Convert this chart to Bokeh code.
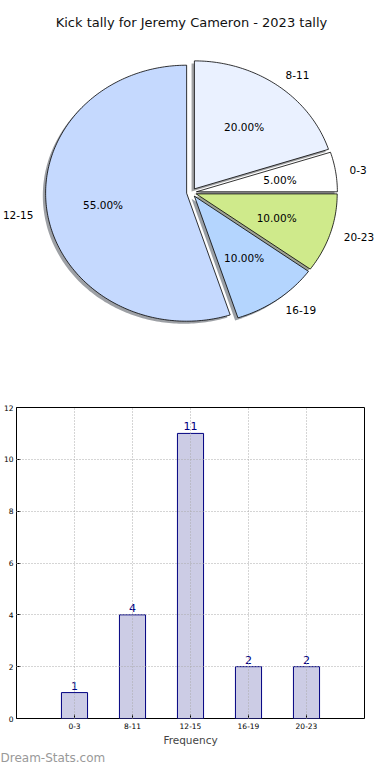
import numpy as np
from bokeh.plotting import figure
from bokeh.models import Range1d, Label, ColumnDataSource, FixedTicker, Title
from bokeh.layouts import column, row
from bokeh.embed import file_html
from bokeh.resources import INLINE
from bokeh.core.properties import value

# ---------------- data ----------------
title_text = "Kick tally for Jeremy Cameron - 2023 tally"
categories = ["0-3", "8-11", "12-15", "16-19", "20-23"]
tallies = [1, 4, 11, 2, 2]
pie_colors = ["#FFFFFF", "#EAF1FF", "#C5D9FE", "#B4D5FE", "#CFEA8B"]
x_label = "Frequency"
watermark = "Dream-Stats.com"
y_ticks = [0, 2, 4, 6, 8, 10, 12]

FONT = "DejaVu Sans"
W = 374

# ---------------- pie ----------------
H1 = 392
RX, RY = 141.0, 128.0     # pixel radius (matplotlib pie without equal aspect)
CX, CY = 191.0, 192.0     # pie centre in pixels (from left / top)
explode = 0.035
p1 = figure(width=W, height=H1, output_backend="svg", toolbar_location=None,
            x_axis_location=None, y_axis_location=None,
            x_range=Range1d(-CX / RX, (W - CX) / RX),
            y_range=Range1d(-(H1 - CY) / RY, CY / RY),
            min_border=0, min_border_left=0, min_border_right=0,
            min_border_top=0, min_border_bottom=0, outline_line_color=None)
p1.grid.visible = False

vals = np.array(tallies, dtype=float)
fr = vals / vals.sum()
ends = np.cumsum(fr) * 360.0
starts = ends - fr * 360.0

wx, wy, sx, sy, shade = [], [], [], [], []
lx, ly, la, px, py, pt = [], [], [], [], [], []
for a0, a1, f, col in zip(starts, ends, fr, pie_colors):
    mid = np.deg2rad((a0 + a1) / 2)
    ox, oy = explode * np.cos(mid), explode * np.sin(mid)
    th = np.deg2rad(np.linspace(a0, a1, max(int(a1 - a0), 2) + 1))
    xs = np.concatenate([[ox], ox + np.cos(th), [ox]])
    ys = np.concatenate([[oy], oy + np.sin(th), [oy]])
    wx.append(list(xs)); wy.append(list(ys))
    sx.append(list(xs - 0.02)); sy.append(list(ys - 0.02))
    rgb = [int(col[i:i + 2], 16) for i in (1, 3, 5)]
    shade.append("#%02x%02x%02x" % tuple(int(c * 0.3) for c in rgb))
    xt = ox + 1.1 * np.cos(mid)
    lx.append(xt); ly.append(oy + 1.1 * np.sin(mid))
    la.append("left" if xt > 0 else "right")
    px.append(ox + 0.6 * np.cos(mid)); py.append(oy + 0.6 * np.sin(mid))
    pt.append("%1.2f%%" % (f * 100))

p1.patches(xs="xs", ys="ys", source=ColumnDataSource(dict(xs=sx, ys=sy, c=shade)),
           fill_color="c", fill_alpha=0.5, line_color=None)
p1.patches(xs="xs", ys="ys", source=ColumnDataSource(dict(xs=wx, ys=wy, c=pie_colors)),
           fill_color="c", line_color="black", line_width=0.8)
p1.text(x="x", y="y", text="t", text_align="a",
        source=ColumnDataSource(dict(x=lx, y=ly, t=categories, a=la)),
        text_baseline="middle", text_font=value(FONT), text_font_size="10.5px",
        text_color="black")
p1.text(x="x", y="y", text="t", source=ColumnDataSource(dict(x=px, y=py, t=pt)),
        text_align="center", text_baseline="middle", text_font=value(FONT),
        text_font_size="10.5px", text_color="black")
p1.add_layout(Label(x=CX, y=H1 - 22, x_units="screen", y_units="screen",
                    text=title_text, text_align="center", text_baseline="middle",
                    text_font=FONT, text_font_size="13px", text_color="#111111"))

# ---------------- bars ----------------
H2 = 372
BL, BR, BT, BB = 16, 10, 15, 34
xpos = list(range(len(categories)))
src = ColumnDataSource(dict(x=xpos, top=tallies, lab=[str(v) for v in tallies]))
p2 = figure(width=W, height=H2, output_backend="svg", toolbar_location=None,
            x_range=Range1d(-1, len(categories)), y_range=Range1d(0, 12),
            min_border_left=BL, min_border_right=BR, min_border_top=BT,
            min_border_bottom=BB)
p2.vbar(x="x", top="top", width=0.45, source=src, fill_color="#CCCCE5",
        line_color="#000080", line_width=1)
p2.text(x="x", y="top", text="lab", source=src, text_align="center",
        text_baseline="bottom", y_offset=-3, text_font=value(FONT),
        text_font_size="11px", text_color="#000080")

p2.xaxis.ticker = FixedTicker(ticks=xpos)
p2.xaxis.major_label_overrides = {i: c for i, c in zip(xpos, categories)}
p2.yaxis.ticker = FixedTicker(ticks=y_ticks)
p2.xaxis.axis_label = x_label
for ax in (p2.xaxis[0], p2.yaxis[0]):
    ax.axis_line_color = None
    ax.major_tick_in = 4
    ax.major_tick_out = 0
    ax.minor_tick_line_color = None
    ax.major_tick_line_color = "black"
    ax.major_label_text_font = FONT
    ax.major_label_text_font_size = "7.5px"
    ax.major_label_text_color = "black"
    ax.major_label_standoff = 3
p2.xaxis.major_label_standoff = 4
p2.xaxis.axis_label_text_font = FONT
p2.xaxis.axis_label_text_font_size = "10.5px"
p2.xaxis.axis_label_text_font_style = "normal"
p2.xaxis.axis_label_standoff = 2
p2.outline_line_color = "black"
p2.outline_line_alpha = 1
p2.outline_line_width = 1
for g in (p2.xgrid[0], p2.ygrid[0]):
    g.grid_line_color = "#aaaaaa"
    g.grid_line_dash = "1 2"
    g.grid_line_width = 1
    g.level = "guide"
p2.add_layout(Title(text=watermark, align="left", offset=-BL, standoff=0,
                    text_font=FONT, text_font_size="12px",
                    text_font_style="normal", text_color="#999999"), "below")

lay = column(row(p1), row(p2), spacing=0)
open("out.html", "w").write(file_html(lay, INLINE))
